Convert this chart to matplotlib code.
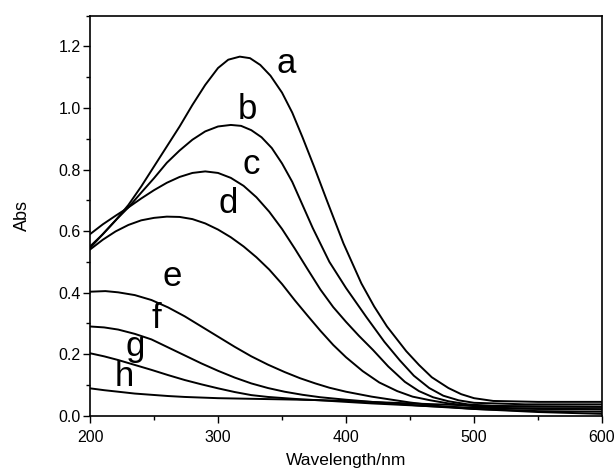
import matplotlib
matplotlib.use("Agg")
import matplotlib.pyplot as plt
from matplotlib.ticker import MultipleLocator, FormatStrFormatter

plt.rcParams['font.family'] = ['Liberation Sans', 'DejaVu Sans']

# wavelength (nm) / absorbance readings for each spectrum
wl_a = [200, 210, 220, 230, 240, 250, 260, 270, 280, 290, 300, 308, 317, 325, 333, 341, 350, 358, 366, 375, 385, 398, 412, 422, 432, 447, 457, 467, 480, 490, 500, 515, 550, 600]
abs_a = [0.55, 0.59, 0.635, 0.685, 0.745, 0.81, 0.875, 0.94, 1.01, 1.075, 1.13, 1.157, 1.167, 1.162, 1.14, 1.105, 1.05, 0.985, 0.905, 0.81, 0.70, 0.56, 0.43, 0.355, 0.29, 0.21, 0.165, 0.125, 0.09, 0.07, 0.057, 0.048, 0.045, 0.045]

wl_b = [200, 210, 220, 230, 240, 250, 260, 270, 280, 290, 300, 310, 318, 326, 334, 342, 350, 358, 366, 374, 387, 400, 416, 430, 442, 453, 465, 476, 488, 500, 540, 600]
abs_b = [0.545, 0.59, 0.635, 0.677, 0.725, 0.772, 0.822, 0.862, 0.897, 0.924, 0.94, 0.945, 0.942, 0.928, 0.905, 0.87, 0.82, 0.76, 0.685, 0.61, 0.50, 0.415, 0.32, 0.24, 0.18, 0.13, 0.09, 0.065, 0.05, 0.042, 0.037, 0.037]

wl_c = [200, 210, 220, 230, 240, 250, 260, 270, 280, 290, 300, 310, 320, 330, 340, 350, 360, 370, 380, 390, 400, 410, 421, 433, 446, 457, 468, 480, 495, 520, 600]
abs_c = [0.59, 0.622, 0.65, 0.677, 0.706, 0.733, 0.757, 0.776, 0.789, 0.794, 0.789, 0.773, 0.747, 0.71, 0.663, 0.607, 0.543, 0.476, 0.41, 0.353, 0.305, 0.26, 0.214, 0.16, 0.11, 0.08, 0.06, 0.047, 0.037, 0.03, 0.029]

wl_d = [200, 210, 220, 230, 240, 250, 260, 270, 280, 290, 300, 310, 320, 330, 340, 350, 360, 370, 380, 390, 400, 413, 426, 440, 452, 466, 480, 500, 530, 600]
abs_d = [0.54, 0.572, 0.599, 0.62, 0.635, 0.643, 0.647, 0.646, 0.639, 0.625, 0.605, 0.58, 0.55, 0.515, 0.475, 0.428, 0.375, 0.325, 0.276, 0.23, 0.19, 0.145, 0.108, 0.08, 0.062, 0.05, 0.04, 0.031, 0.024, 0.021]

wl_e = [200, 212, 222, 235, 248, 261, 274, 287, 300, 313, 326, 339, 352, 364, 376, 387, 400, 420, 450, 475, 500, 550, 600]
abs_e = [0.403, 0.405, 0.401, 0.392, 0.376, 0.352, 0.323, 0.29, 0.257, 0.224, 0.193, 0.166, 0.142, 0.122, 0.105, 0.091, 0.078, 0.062, 0.043, 0.03, 0.022, 0.015, 0.013]

wl_f = [200, 211, 222, 235, 248, 261, 274, 287, 300, 313, 326, 339, 352, 366, 380, 400, 420, 460, 500, 550, 600]
abs_f = [0.29, 0.287, 0.28, 0.266, 0.248, 0.222, 0.196, 0.17, 0.146, 0.124, 0.105, 0.09, 0.078, 0.068, 0.06, 0.052, 0.045, 0.032, 0.022, 0.012, 0.006]

wl_g = [200, 211, 222, 235, 248, 261, 274, 287, 300, 313, 326, 339, 352, 366, 380, 400, 420, 460, 500, 550, 600]
abs_g = [0.203, 0.193, 0.181, 0.165, 0.149, 0.132, 0.116, 0.102, 0.089, 0.077, 0.067, 0.061, 0.057, 0.053, 0.05, 0.045, 0.04, 0.032, 0.026, 0.022, 0.021]

wl_h = [200, 211, 222, 235, 248, 261, 274, 287, 300, 326, 352, 376, 400, 450, 500, 550, 600]
abs_h = [0.089, 0.083, 0.078, 0.072, 0.068, 0.064, 0.061, 0.059, 0.057, 0.055, 0.053, 0.051, 0.048, 0.04, 0.033, 0.03, 0.029]

curve_labels = ['a', 'b', 'c', 'd', 'e', 'f', 'g', 'h']
label_x = [353, 323, 326, 308, 264, 252, 235, 227]
label_y = [1.144, 0.994, 0.815, 0.69, 0.452, 0.317, 0.225, 0.127]

xticks = [200, 300, 400, 500, 600]
yticks = [0.0, 0.2, 0.4, 0.6, 0.8, 1.0, 1.2]

fig = plt.figure(figsize=(6.14, 4.73), dpi=100)
ax = fig.add_axes([0.1466, 0.1211, 0.8339, 0.8457])

series = [(wl_a, abs_a), (wl_b, abs_b), (wl_c, abs_c), (wl_d, abs_d),
          (wl_e, abs_e), (wl_f, abs_f), (wl_g, abs_g), (wl_h, abs_h)]
for wl, ab in series:
    ax.plot(wl, ab, color='black', lw=1.4, solid_joinstyle='round')

for lab, lx, ly in zip(curve_labels, label_x, label_y):
    ax.text(lx, ly, lab, fontsize=25, ha='center', va='center')

ax.set_xlim(200, 600)
ax.set_ylim(0, 1.3)
ax.set_xticks(xticks)
ax.set_yticks(yticks)
ax.xaxis.set_minor_locator(MultipleLocator(50))
ax.yaxis.set_minor_locator(MultipleLocator(0.1))
ax.yaxis.set_major_formatter(FormatStrFormatter('%.1f'))
ax.tick_params(which='major', direction='out', length=5, width=1, labelsize=11.5)
ax.tick_params(axis='x', which='major', pad=5)
ax.tick_params(axis='y', which='major', pad=1.5)
ax.tick_params(which='minor', direction='out', length=3, width=1)
ax.tick_params(top=False, right=False, which='both')
for s in ax.spines.values():
    s.set_linewidth(1.2)

ax.set_xlabel('Wavelength/nm', fontsize=12.5, labelpad=6)
ax.set_ylabel('Abs', fontsize=13, labelpad=20)

fig.savefig('out.png', dpi=100)
